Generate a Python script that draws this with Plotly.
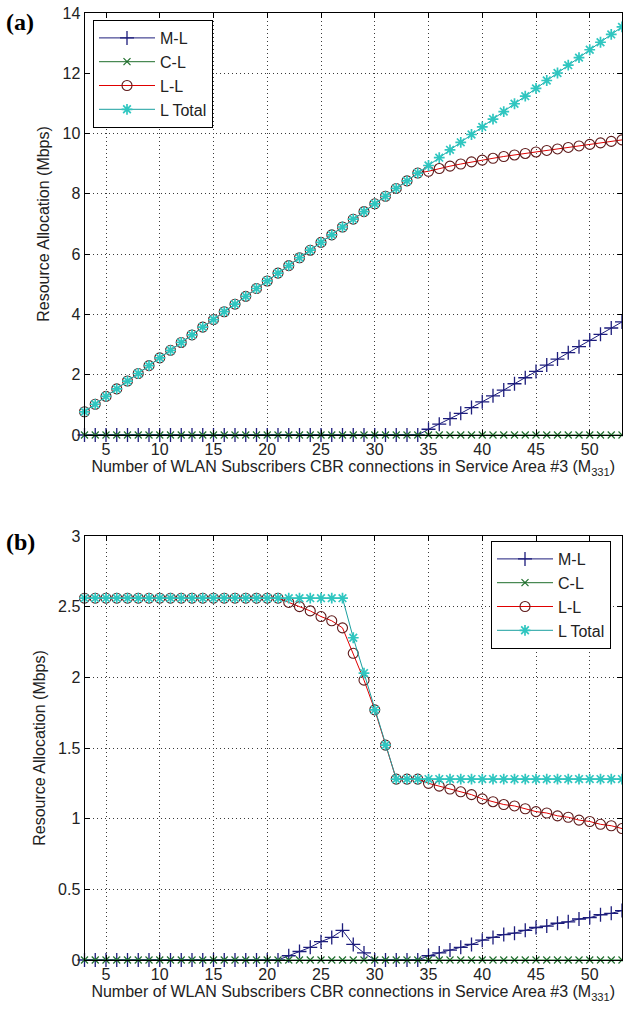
import plotly.graph_objects as go

# Number of WLAN CBR connections in service area #3
m331 = list(range(3, 54))

# Panel (a) resource allocation (Mbps)
a_ml = [0, 0, 0, 0, 0, 0, 0, 0, 0, 0, 0, 0, 0, 0, 0, 0, 0, 0, 0, 0,
        0, 0, 0, 0, 0, 0, 0, 0, 0, 0, 0, 0,
        0.19, 0.36, 0.54, 0.72, 0.91, 1.10, 1.30, 1.49, 1.70, 1.90,
        2.11, 2.32, 2.52, 2.73, 2.93, 3.14, 3.34, 3.55, 3.75]
a_cl = [0, 0, 0, 0, 0, 0, 0, 0, 0, 0, 0, 0, 0, 0, 0, 0, 0, 0, 0, 0,
        0, 0, 0, 0, 0, 0, 0, 0, 0, 0, 0, 0, 0, 0, 0, 0, 0, 0, 0, 0,
        0, 0, 0, 0, 0, 0, 0, 0, 0, 0, 0]
a_ll = [0.77, 1.02, 1.28, 1.53, 1.79, 2.04, 2.30, 2.56, 2.81, 3.07,
        3.32, 3.58, 3.83, 4.09, 4.34, 4.60, 4.86, 5.11, 5.37, 5.62,
        5.88, 6.13, 6.39, 6.64, 6.90, 7.16, 7.41, 7.67, 7.92, 8.18,
        8.43, 8.69,
        8.75, 8.84, 8.92, 8.99, 9.06, 9.12, 9.18, 9.24, 9.29, 9.34,
        9.39, 9.44, 9.49, 9.54, 9.59, 9.64, 9.69, 9.74, 9.79]
a_total = [0.77, 1.02, 1.28, 1.53, 1.79, 2.04, 2.30, 2.56, 2.81, 3.07,
           3.32, 3.58, 3.83, 4.09, 4.34, 4.60, 4.86, 5.11, 5.37, 5.62,
           5.88, 6.13, 6.39, 6.64, 6.90, 7.16, 7.41, 7.67, 7.92, 8.18,
           8.43, 8.69,
           8.94, 9.20, 9.46, 9.71, 9.97, 10.22, 10.48, 10.73, 10.99, 11.24,
           11.50, 11.76, 12.01, 12.27, 12.52, 12.78, 13.03, 13.29, 13.54]

# Panel (b) resource allocation (Mbps)
b_ml = [0, 0, 0, 0, 0, 0, 0, 0, 0, 0, 0, 0, 0, 0, 0, 0, 0, 0, 0,
        0.03, 0.06, 0.09, 0.13, 0.16, 0.21, 0.11, 0.05,
        0, 0, 0, 0, 0,
        0.03, 0.05, 0.07, 0.09, 0.11, 0.14, 0.16, 0.18, 0.19, 0.21,
        0.23, 0.24, 0.26, 0.27, 0.29, 0.30, 0.32, 0.33, 0.35]
b_cl = [0, 0, 0, 0, 0, 0, 0, 0, 0, 0, 0, 0, 0, 0, 0, 0, 0, 0, 0, 0,
        0, 0, 0, 0, 0, 0, 0, 0, 0, 0, 0, 0, 0, 0, 0, 0, 0, 0, 0, 0,
        0, 0, 0, 0, 0, 0, 0, 0, 0, 0, 0]
b_ll = [2.56, 2.56, 2.56, 2.56, 2.56, 2.56, 2.56, 2.56, 2.56, 2.56,
        2.56, 2.56, 2.56, 2.56, 2.56, 2.56, 2.56, 2.56, 2.56,
        2.53, 2.50, 2.47, 2.43, 2.40, 2.35, 2.17, 1.98, 1.77, 1.52,
        1.28, 1.28, 1.28,
        1.25, 1.23, 1.21, 1.19, 1.17, 1.14, 1.12, 1.10, 1.09, 1.07,
        1.05, 1.04, 1.02, 1.01, 0.99, 0.98, 0.96, 0.95, 0.93]
b_total = [2.56, 2.56, 2.56, 2.56, 2.56, 2.56, 2.56, 2.56, 2.56, 2.56,
           2.56, 2.56, 2.56, 2.56, 2.56, 2.56, 2.56, 2.56, 2.56, 2.56,
           2.56, 2.56, 2.56, 2.56, 2.56,
           2.28, 2.03, 1.77, 1.52,
           1.28, 1.28, 1.28, 1.28, 1.28, 1.28, 1.28, 1.28, 1.28, 1.28,
           1.28, 1.28, 1.28, 1.28, 1.28, 1.28, 1.28, 1.28, 1.28, 1.28,
           1.28, 1.28]

series_names = ["M-L", "C-L", "L-L", "L Total"]
a_ticks_y = [0, 2, 4, 6, 8, 10, 12, 14]
b_ticks_y = [0, 0.5, 1, 1.5, 2, 2.5, 3]
x_ticks = [5, 10, 15, 20, 25, 30, 35, 40, 45, 50]

W, H = 623, 1012
FONT = "Liberation Sans, Arial, sans-serif"
FS = 16

styles = [
    dict(line=dict(color="#1c1c7c", width=1),
         marker=dict(symbol="cross-thin", size=10, color="#1c1c7c",
                     line=dict(color="#1c1c7c", width=1.3))),
    dict(line=dict(color="#1f6e2c", width=1),
         marker=dict(symbol="x-thin", size=7, color="#1f6e2c",
                     line=dict(color="#1f6e2c", width=1.2))),
    dict(line=dict(color="#e00000", width=1),
         marker=dict(symbol="circle-open", size=10, color="#5e1a1a",
                     line=dict(color="#5e1a1a", width=1.1))),
    dict(line=dict(color="#1a9f9f", width=1),
         marker=dict(symbol="asterisk-open", size=9, color="#2fc6c0",
                     line=dict(color="#2fc6c0", width=1.7))),
]

fig = go.Figure()
for ys, xa, ya, leg in [((a_ml, a_cl, a_ll, a_total), "x", "y", "legend"),
                        ((b_ml, b_cl, b_ll, b_total), "x2", "y2", "legend2")]:
    for name, vals, st in zip(series_names, ys, styles):
        fig.add_trace(go.Scatter(
            x=m331, y=vals, name=name, mode="lines+markers",
            xaxis=xa, yaxis=ya, legend=leg, legendgroup=leg + name,
            line=st["line"], marker=st["marker"], cliponaxis=False))


def px_x(p):
    return p / W


def px_y(p):
    return 1 - p / H


x_title = "Number of WLAN Subscribers CBR connections in Service Area #3 (M<sub>331</sub>)"
axis_common = dict(
    automargin=False,
    showline=True, linecolor="black", linewidth=1, mirror="ticks",
    ticks="inside", ticklen=5, tickcolor="black",
    showgrid=True, gridcolor="#3a3a3a", gridwidth=1, griddash="1px,3px",
    zeroline=False, tickfont=dict(family=FONT, size=FS, color="#222"),
)
legend_common = dict(
    xanchor="left", yanchor="top", bordercolor="black", borderwidth=1,
    bgcolor="white", font=dict(family=FONT, size=FS, color="#222"),
    traceorder="grouped", tracegroupgap=0, itemwidth=56,
)
label_font = dict(family="Liberation Serif, Times New Roman, serif", size=24,
                  color="black")

x_dom = [px_x(84.5), px_x(622)]
fig.update_layout(
    width=W, height=H, autosize=False,
    margin=dict(l=0, r=0, t=0, b=0, autoexpand=False),
    paper_bgcolor="white", plot_bgcolor="white",
    font=dict(family=FONT, size=FS, color="#222"),
    xaxis=dict(axis_common, domain=x_dom, anchor="y", range=[3, 53],
               tickvals=x_ticks,
               title=dict(text=x_title, font=dict(size=FS), standoff=3)),
    yaxis=dict(axis_common, domain=[px_y(435), px_y(13)], anchor="x",
               range=[0, 14], tickvals=a_ticks_y,
               title=dict(text="Resource Allocation (Mbps)", font=dict(size=FS),
                          standoff=8)),
    xaxis2=dict(axis_common, domain=x_dom, anchor="y2", range=[3, 53],
                tickvals=x_ticks,
                title=dict(text=x_title, font=dict(size=FS), standoff=3)),
    yaxis2=dict(axis_common, domain=[px_y(960), px_y(536)], anchor="x2",
                range=[0, 3], tickvals=b_ticks_y,
                title=dict(text="Resource Allocation (Mbps)", font=dict(size=FS),
                           standoff=8)),
    legend=dict(legend_common, x=px_x(93), y=px_y(20)),
    legend2=dict(legend_common, x=px_x(491), y=px_y(541)),
    showlegend=True,
    annotations=[
        dict(text="<b>(a)</b>", x=px_x(4), y=px_y(22), xref="paper", yref="paper",
             xanchor="left", yanchor="middle", showarrow=False, font=label_font),
        dict(text="<b>(b)</b>", x=px_x(4), y=px_y(542), xref="paper", yref="paper",
             xanchor="left", yanchor="middle", showarrow=False, font=label_font),
    ],
)

fig.write_html("out.html")
